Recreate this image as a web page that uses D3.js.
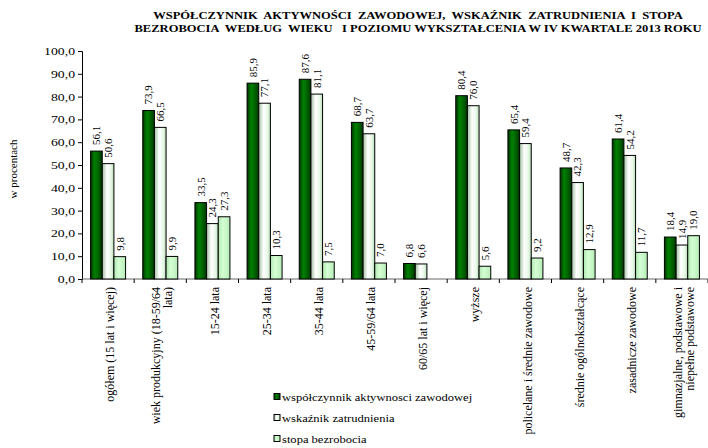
<!DOCTYPE html>
<html>
<head>
<meta charset="utf-8">
<script src="https://cdn.jsdelivr.net/npm/d3@7"></script>
<style>
  body { margin: 0; background: #fff; }
  svg { font-family: "Liberation Serif", "Times New Roman", serif; }
</style>
</head>
<body>
<div id="chart"></div>
<script>
const categories = [
    ["ogółem (15 lat i więcej)"],
    ["wiek produkcyjny (18-59/64", "lata)"],
    ["15-24 lata"],
    ["25-34 lata"],
    ["35-44 lata"],
    ["45-59/64 lata"],
    ["60/65 lat i więcej"],
    ["wyższe"],
    ["policelane i średnie zawodowe"],
    ["średnie ogólnokształcące"],
    ["zasadnicze zawodowe"],
    ["gimnazjalne, podstawowe i", "niepełne podstawowe"]
]
const seriesNames = ["współczynnik aktywnosci zawodowej", "wskaźnik zatrudnienia", "stopa bezrobocia"]
const aktywnosc = [56.1, 73.9, 33.5, 85.9, 87.6, 68.7, 6.8, 80.4, 65.4, 48.7, 61.4, 18.4]
const zatrudnienie = [50.6, 66.5, 24.3, 77.1, 81.1, 63.7, 6.6, 76.0, 59.4, 42.3, 54.2, 14.9]
const bezrobocie = [9.8, 9.9, 27.3, 10.3, 7.5, 7.0, null, 5.6, 9.2, 12.9, 11.7, 19.0]
const yTicks = [0, 10, 20, 30, 40, 50, 60, 70, 80, 90, 100]
const titleLines = [
    "WSPÓŁCZYNNIK  AKTYWNOŚCI  ZAWODOWEJ,  WSKAŹNIK  ZATRUDNIENIA  I  STOPA",
    "BEZROBOCIA  WEDŁUG  WIEKU   I POZIOMU WYKSZTAŁCENIA W IV KWARTALE 2013 ROKU"
]

const series = [aktywnosc, zatrudnienie, bezrobocie]
const fmt = v => v.toFixed(1).replace(".", ",")

// the source picture is a bit wider than tall, so horizontal text gets stretched
function stretch(sel, k) {
    sel.each(function () {
        const len = this.getComputedTextLength()
        d3.select(this).attr("textLength", len * k).attr("lengthAdjust", "spacingAndGlyphs")
    })
}

const width = 708, height = 448
const svg = d3.select("#chart").append("svg")
    .attr("width", width).attr("height", height)

// gradients for the bars
const defs = svg.append("defs")
const grads = [
    [["0%", "#003300"], ["35%", "#008000"], ["60%", "#006a00"], ["100%", "#003800"]],
    [["0%", "#9fbf9f"], ["40%", "#ffffff"], ["75%", "#e8f8e8"], ["100%", "#b6dcb6"]],
    [["0%", "#b0e6b0"], ["40%", "#d4ffd4"], ["100%", "#b8ecb8"]]
]
grads.forEach((stops, i) => {
    const g = defs.append("linearGradient").attr("id", "g" + i)
        .attr("x1", "0%").attr("x2", "100%").attr("y1", "0%").attr("y2", "0%")
    stops.forEach(s => g.append("stop").attr("offset", s[0]).attr("stop-color", s[1]))
})

const x0 = 82, x1 = 708, yTop = 51, yBottom = 279
const x = d3.scaleBand().domain(d3.range(categories.length)).range([x0, x1])
const xs = d3.scaleBand().domain([0, 1, 2]).range([0, 35])
const y = d3.scaleLinear().domain([0, 100]).range([yBottom, yTop])

// title
const title = svg.append("g").selectAll("text").data(titleLines).join("text")
    .attr("x", 418).attr("y", (d, i) => 19 + i * 13)
    .attr("text-anchor", "middle")
    .attr("font-size", 11).attr("font-weight", "bold")
    .style("white-space", "pre")
    .text(d => d)
stretch(title, 1.14)

// y axis
const yAxis = svg.append("g").attr("transform", `translate(${x0},0)`)
    .call(d3.axisLeft(y).tickValues(yTicks).tickSize(4).tickPadding(3).tickFormat(fmt))
yAxis.select(".domain").attr("stroke", "#000")
yAxis.selectAll("text").attr("font-size", 11).attr("fill", "#000")
    .attr("font-family", "Liberation Serif, serif")
stretch(yAxis.selectAll("text"), 1.25)

svg.append("text")
    .attr("transform", "translate(13,169) rotate(-90)")
    .attr("text-anchor", "middle").attr("dy", "0.35em").attr("font-size", 11)
    .text("w procentach")

// x axis with ticks at category boundaries
const xAxis = svg.append("g")
xAxis.append("line").attr("x1", x0).attr("x2", x1).attr("y1", yBottom).attr("y2", yBottom)
    .attr("stroke", "#666").attr("stroke-width", 1.2)
xAxis.selectAll("line.tk").data(d3.range(categories.length + 1)).join("line")
    .attr("class", "tk")
    .attr("x1", i => x0 + i * x.step()).attr("x2", i => x0 + i * x.step())
    .attr("y1", yBottom).attr("y2", yBottom + 4)
    .attr("stroke", "#000")

// category labels, rotated
const catG = svg.append("g").selectAll("g").data(categories).join("g")
    .attr("transform", (d, i) => `translate(${x(i) + x.bandwidth() / 2 + 2},287) rotate(-90)`)
catG.selectAll("text").data(d => d.map((t, j) => ({ t, j, n: d.length }))).join("text")
    .attr("x", 0)
    .attr("y", d => (d.j - (d.n - 1) / 2) * 12)
    .attr("dy", "0.35em")
    .attr("text-anchor", "end")
    .attr("font-size", 12)
    .text(d => d.t)

// bars
const groups = svg.append("g").selectAll("g").data(categories).join("g")
    .attr("transform", (d, i) => `translate(${x(i) + (x.bandwidth() - 35) / 2},0)`)

groups.each(function (d, i) {
    const g = d3.select(this)
    series.forEach((s, k) => {
        const v = s[i]
        if (v === null) return
        g.append("rect")
            .attr("x", xs(k)).attr("width", xs.bandwidth())
            .attr("y", y(v)).attr("height", y(0) - y(v))
            .attr("fill", `url(#g${k})`)
            .attr("stroke", "#000").attr("stroke-width", 1)
        g.append("text")
            .attr("transform", `translate(${xs(k) + xs.bandwidth() / 2},${y(v) - 6}) rotate(-90)`)
            .attr("dy", "0.35em")
            .attr("font-size", 11)
            .text(fmt(v))
    })
})

// legend
const legend = svg.append("g").selectAll("g").data(seriesNames).join("g")
    .attr("transform", (d, i) => `translate(274,${397 + i * 21})`)
legend.append("rect")
    .attr("x", 0).attr("y", -3.5).attr("width", 6).attr("height", 6)
    .attr("fill", (d, i) => `url(#g${i})`)
    .attr("stroke", "#000").attr("stroke-width", 1)
const legText = legend.append("text")
    .attr("x", 8).attr("y", 0).attr("dy", "0.35em")
    .attr("font-size", 11)
    .text(d => d)
stretch(legText, 1.14)
</script>
</body>
</html>
